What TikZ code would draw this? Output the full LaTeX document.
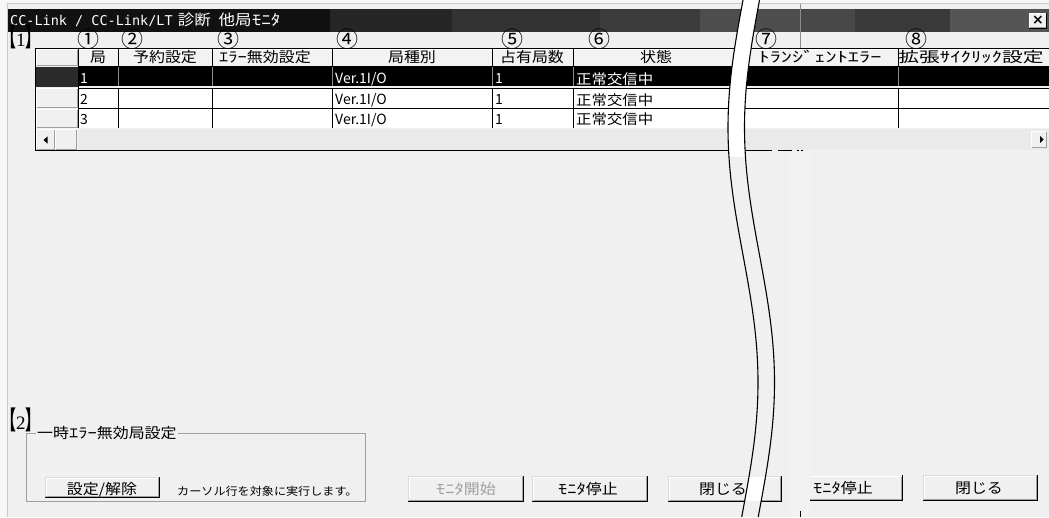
\documentclass[tikz,border=0pt]{standalone}
\usepackage{fontspec}
\usepackage{graphicx}
\setmainfont{Noto Sans CJK JP}
\newfontfamily\uifont[FakeStretch=1.1]{Noto Sans CJK JP}
\newfontfamily\uilatin{Noto Sans CJK JP}
\newfontfamily\uimono{DejaVu Sans Mono}
\newfontfamily\uiserif{Liberation Serif}
\newfontfamily\uisym{DejaVu Sans}
\newcommand\setfs[1]{\fontsize{#1}{#1}\selectfont}
\newcommand\hw[1]{\scalebox{1.16}[1]{#1}}
\definecolor{winbg}{HTML}{F0F0F0}
\definecolor{outerbg}{HTML}{F7F7F7}
\definecolor{framegray}{HTML}{C8C8C8}
\definecolor{btnshadow}{HTML}{A0A0A0}
\definecolor{btnlight}{HTML}{DADADA}
\definecolor{trough}{HTML}{EAEAEA}
\definecolor{hdrface}{HTML}{F3F3F3}
\definecolor{selhdr}{HTML}{2B2B2B}
\definecolor{rowdiv}{HTML}{8C8C8C}
\definecolor{grpline}{HTML}{A0A0A0}
\definecolor{distext}{HTML}{A0A0A0}
\definecolor{splice}{HTML}{F2F2F2}
\definecolor{tbA}{HTML}{111111}
\definecolor{tbB}{HTML}{262626}
\definecolor{tbC}{HTML}{333333}
\definecolor{tbD}{HTML}{3C3C3C}
\definecolor{tbE}{HTML}{4E4E4E}
\definecolor{tbF}{HTML}{484848}
\definecolor{tbG}{HTML}{3A3A3A}
\definecolor{tbH}{HTML}{555555}
\tikzset{
  uitext/.style={inner sep=0pt, anchor=base, font=\uifont\setfs{14.5}},
  celltext/.style={inner sep=0pt, anchor=base west, font=\uifont\setfs{14}},
  latintext/.style={inner sep=0pt, anchor=base west, font=\uilatin\setfs{14}},
  circnum/.style={inner sep=0pt, anchor=base, font=\uilatin\setfs{22}},
  bigmark/.style={inner sep=0pt, anchor=base, font=\setfs{22}, text height=14pt, text depth=1pt},
  gridline/.style={black, line width=1pt},
  breakline/.style={black, line width=1.1pt},
}
\newcommand\secmark[1]{\scalebox{0.68}[1.15]{\bfseries 【}{\uiserif\setfs{19}#1}\scalebox{0.68}[1.15]{\bfseries 】}}
% x1,y1,x2,y2,name,text-x,baseline,text
\newcommand\uibtn[8]{%
  \fill[winbg] (#1,#2) rectangle (#3,#4);
  \draw[btnlight] (#1+0.5,#4-1) -- (#1+0.5,#2+0.5) -- (#3-1,#2+0.5);
  \draw[white] (#1+1.5,#4-2) -- (#1+1.5,#2+1.5) -- (#3-2,#2+1.5);
  \draw[btnshadow] (#1+1,#4-1.5) -- (#3-1.5,#4-1.5) -- (#3-1.5,#2+1);
  \draw[black] (#1,#4-0.5) -- (#3-0.5,#4-0.5) -- (#3-0.5,#2);
  \node[uitext] (#5) at (#6,#7) {#8};
}
% 3D cell (row header)
\newcommand\cellthreed[4]{%
  \fill[winbg] (#1,#2) rectangle (#3,#4);
  \draw[white] (#1+0.5,#4-1) -- (#1+0.5,#2+0.5) -- (#3-1,#2+0.5);
  \draw[btnshadow] (#1+0.5,#4-0.5) -- (#3-0.5,#4-0.5) -- (#3-0.5,#2+0.5);
}
\begin{document}
\begin{tikzpicture}[x=1pt,y=-1pt]
\useasboundingbox (0,0) rectangle (1049,517);
% backgrounds
\fill[outerbg] (0,0) rectangle (1049,517);
\fill[winbg] (7,3) rectangle (1049,517);
\draw[framegray] (7.5,517) -- (7.5,3.5) -- (1049,3.5);
% title bar
\fill[tbA] (8,9) rectangle (330,32);
\fill[tbB] (330,9) rectangle (452,32);
\fill[tbC] (452,9) rectangle (600,32);
\fill[tbD] (600,9) rectangle (700,32);
\fill[tbE] (700,9) rectangle (800,32);
\fill[tbF] (800,9) rectangle (855,32);
\fill[tbG] (855,9) rectangle (950,32);
\fill[tbH] (950,9) rectangle (1049,32);
\node[inner sep=0pt, anchor=base west, text=white] (title) at (10,25)
  {{\uimono\setfs{13.5}CC-Link / CC-Link/LT}\hspace{5pt}{\uifont\setfs{15}診断\hspace{8pt}他局\hw{ﾓﾆﾀ}}};
% close button
\cellthreed{1029}{13}{1047}{28}
\draw[black] (1046.5,13) -- (1046.5,28) -- (1029,28);
\node[inner sep=0pt, font=\uisym\bfseries\setfs{14}] (closex) at (1038,20.5) {×};
% splice artefact line
\draw[rowdiv] (800.5,3.5) -- (800.5,48);
% section marks and circled numbers
\node[bigmark] (mark1) at (21,46.5) {\secmark{1}};
\node[circnum] (c1) at (88.5,47) {①};
\node[circnum] (c2) at (132,47) {②};
\node[circnum] (c3) at (228,47) {③};
\node[circnum] (c4) at (347,47) {④};
\node[circnum] (c5) at (512,47) {⑤};
\node[circnum] (c6) at (599,47) {⑥};
\node[circnum] (c7) at (766,47) {⑦};
\node[circnum] (c8) at (916,47) {⑧};
% ---------- table ----------
% header row
\fill[hdrface] (78,48) rectangle (1049,66);
\draw[white] (79,49.5) -- (1049,49.5);
\cellthreed{36}{49}{78}{66}
% row header cells
\fill[selhdr] (36,67) rectangle (78,87);
\cellthreed{36}{88}{78}{108}
\cellthreed{36}{109}{78}{128}
% data rows
\fill[black] (78,67) rectangle (1049,86.3);
\fill[white] (79,88) rectangle (1049,128);
\draw[gridline] (78,88) -- (1049,88);
\draw[gridline] (78,108.5) -- (1049,108.5);
\draw[gridline] (78,66.5) -- (1049,66.5);
% column dividers
\foreach \cx in {118.5,212.5,332.5,492.5,573.5,898.5}{
  \draw[black] (\cx,48) -- (\cx,66);
  \draw[rowdiv] (\cx,67) -- (\cx,86.3);
  \draw[black] (\cx,88) -- (\cx,128);
}
\draw[black] (78.5,48) -- (78.5,128);
% scrollbar
\fill[trough] (78,129) rectangle (1049,149.5);
\cellthreed{36}{129}{55}{149.5}
\cellthreed{55}{129}{77}{149.5}
\fill[black] (43.5,140) -- (47.5,136.5) -- (47.5,143.5) -- cycle;
\cellthreed{1031}{131}{1047}{148}
\fill[black] (1043.5,139.5) -- (1040,136) -- (1040,143) -- cycle;
% outer frame
\draw[black] (35.5,150.5) -- (35.5,48.5) -- (1049,48.5);
\draw[black] (35.5,150.5) -- (772,150.5);
\draw[black, line width=1.2pt] (778,150.5) -- (792,150.5);
\draw[black] (797,150.5) -- (799,150.5);
\draw[black] (801,150.5) -- (803,150.5);
% header texts
\node[uitext] (h1) at (98,62) {局};
\node[uitext] (h2) at (165,62) {予約設定};
\node[uitext] (h3) at (265,62) {\hw{ｴﾗｰ}無効設定};
\node[uitext] (h4) at (412,62) {局種別};
\node[uitext] (h5) at (532,62) {占有局数};
\node[uitext] (h6) at (656,62) {状態};
\node[uitext] (h7) at (820,62) {\scalebox{1.4}[1]{ﾄﾗﾝｼﾞｪﾝﾄｴﾗｰ}};
\node[uitext] (h8) at (971,62) {\scalebox{1.3}[1]{拡張ｻｲｸﾘｯｸ設定}};
% row 1 (selected)
\node[latintext, text=white] (r1a) at (80,83.5) {1};
\node[latintext, text=white] (r1b) at (335,83.5) {Ver.1I/O};
\node[latintext, text=white] (r1c) at (495,83.5) {1};
\node[celltext, text=white] (r1d) at (576,84) {正常交信中};
% row 2
\node[latintext] (r2a) at (80,104.5) {2};
\node[latintext] (r2b) at (335,104.5) {Ver.1I/O};
\node[latintext] (r2c) at (495,104.5) {1};
\node[celltext] (r2d) at (576,105) {正常交信中};
% row 3
\node[latintext] (r3a) at (80,124) {3};
\node[latintext] (r3b) at (335,124) {Ver.1I/O};
\node[latintext] (r3c) at (495,124) {1};
\node[celltext] (r3d) at (576,124.5) {正常交信中};
% splice strip
\fill[splice] (790,152) rectangle (810,517);
\draw[black, line width=1.2pt] (800.5,511) -- (800.5,517);
% ---------- group box ----------
\draw[grpline] (26.5,433.5) rectangle (365.5,501.5);
\node[uitext, anchor=base west, fill=winbg, inner xsep=1pt] (grplabel) at (36,438.5) {一時\hw{ｴﾗｰ}無効局設定};
\node[bigmark] (mark2) at (21,429) {\secmark{2}};
\uibtn{45}{477}{160}{498}{setbtn}{102}{494}{設定/解除}
\node[inner sep=0pt, anchor=base west, font=\uifont\setfs{11}] (hint) at (177,495) {カーソル行を対象に実行します。};
% ---------- bottom buttons ----------
\uibtn{408}{476}{524}{502}{startbtn}{466}{494}{\textcolor{distext}{\hw{ﾓﾆﾀ}開始}}
\uibtn{532}{476}{648}{502}{stopbtn}{588}{494}{\hw{ﾓﾆﾀ}停止}
\uibtn{668}{476}{782}{502}{closebtn}{723}{494}{閉じる}
% button 4 (left edge hidden by the splice)
\fill[winbg] (810,475) rectangle (903,501);
\draw[white] (810,476.5) -- (901,476.5);
\draw[btnshadow] (810,499.5) -- (901.5,499.5) -- (901.5,477);
\draw[black] (810,500.5) -- (902.5,500.5) -- (902.5,475);
\node[uitext] (stopbtnb) at (843,493) {\hw{ﾓﾆﾀ}停止};
\uibtn{923}{475}{1038}{501}{closebtnb}{979}{493}{閉じる}
% ---------- break band ----------
\fill[winbg] plot[domain=0:517,samples=100] ({743-15*sin(0.705882*\x)},\x)
   -- plot[domain=517:0,samples=100] ({759.5-15*sin(0.705882*\x)},\x) -- cycle;
\begin{scope}
\clip plot[domain=0:517,samples=100] ({743-15*sin(0.705882*\x)},\x)
   -- plot[domain=517:0,samples=100] ({759.5-15*sin(0.705882*\x)},\x) -- cycle;
\fill[white] (700,0) rectangle (800,157);
\fill[white] (700,477) rectangle (800,501);
\end{scope}
\draw[breakline] plot[domain=0:517,samples=100] ({743-15*sin(0.705882*\x)},\x);
\draw[breakline] plot[domain=0:517,samples=100] ({759.5-15*sin(0.705882*\x)},\x);
\end{tikzpicture}
\end{document}
